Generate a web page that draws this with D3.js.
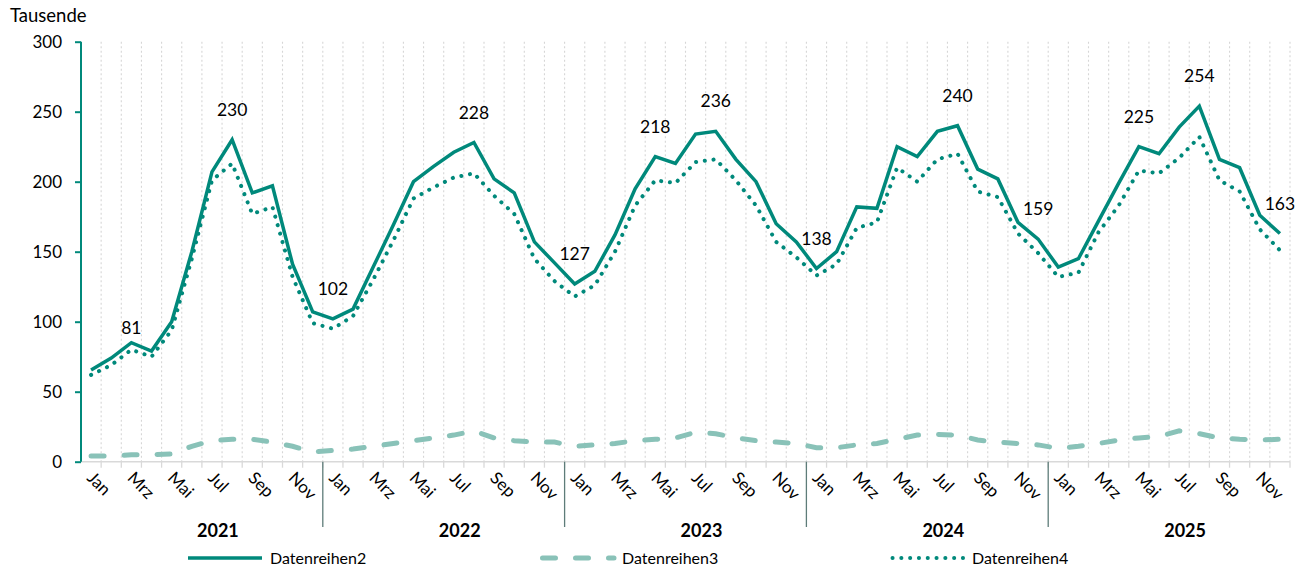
<!DOCTYPE html>
<html>
<head>
<meta charset="utf-8">
<script src="https://cdn.jsdelivr.net/npm/d3@7"></script>
<style>
  html, body { margin: 0; padding: 0; background: #fff; }
  svg { display: block; font-family: Lato, "Open Sans", sans-serif; }
</style>
</head>
<body>
<svg id="chart" width="1306" height="570"></svg>
<script>
// ---------- data ----------
const years = ["2021", "2022", "2023", "2024", "2025"];
const months = ["Jan", "Feb", "Mrz", "Apr", "Mai", "Jun", "Jul", "Aug", "Sep", "Okt", "Nov", "Dez"];
const shownMonths = ["Jan", "Mrz", "Mai", "Jul", "Sep", "Nov"];
const yTicks = [0, 50, 100, 150, 200, 250, 300];

const datenreihen2 = [
  65.5, 74, 85, 79, 100, 150, 207, 230, 192, 197, 141, 107,
  102, 109, 139, 169, 200, 211, 221, 228, 202, 192, 157, 142,
  127, 136, 162, 195, 218, 213, 234, 236, 216, 200, 170, 157,
  138, 150, 182, 181, 225, 218, 236, 240, 209, 202, 171, 159,
  139, 145, 172, 199, 225, 220, 239, 254, 216, 210, 176, 163
];
const datenreihen3 = [
  4, 4, 5, 5, 5.5, 11, 15, 16, 16, 14, 11, 7,
  8, 9, 11, 13, 15, 17, 19, 22, 17, 15, 14, 14,
  11, 12, 13, 15, 16, 17, 21, 20, 17, 15, 14, 13,
  10, 10, 12, 13, 16, 19, 19.5, 19, 15.5, 14, 13, 12,
  9.5, 11, 13, 15.5, 17, 18, 22, 20, 17, 16, 15.5, 16
];
const datenreihen4 = [
  62, 69, 80, 75, 94, 145, 201, 213, 177, 182, 132, 99,
  95, 104, 130, 158, 188, 196, 203, 206, 190, 177, 145, 129,
  118, 126, 150, 183, 201, 199, 214, 216, 201, 183, 157, 146,
  133, 141, 167, 171, 210, 200, 216, 220, 193, 189, 163, 149,
  132, 135, 164, 183, 208, 206, 217, 232, 201, 193, 166, 151
];
// data labels: month index (0..59) and displayed text
const labelIndex = [2, 7, 12, 19, 24, 28, 31, 36, 43, 47, 52, 55, 59];
const labelText  = ["81", "230", "102", "228", "127", "218", "236", "138", "240", "159", "225", "254", "163"];
const seriesNames = ["Datenreihen2", "Datenreihen3", "Datenreihen4"];

// ---------- layout / style ----------
const W = 1306, H = 570;
const plot = { left: 81, right: 1290, top: 41.7, bottom: 461.7 };
const teal = "#00897b";
const lightTeal = "#89c2b8";
const labelOffset = { def: 24, 2: 9 };

const svg = d3.select("#chart");

const categories = [];
years.forEach(y => months.forEach(m => categories.push(y + "-" + m)));

const x = d3.scaleBand().domain(categories).range([plot.left, plot.right]).padding(0);
const y = d3.scaleLinear().domain([0, 300]).range([plot.bottom, plot.top]);
const bw = x.bandwidth();
const cx = i => x(categories[i]) + bw / 2;

// vertical dotted gridlines at category boundaries
const boundaries = d3.range(1, categories.length + 1).map(i => plot.left + i * bw);
svg.append("g").selectAll("line").data(boundaries).join("line")
  .attr("x1", d => d).attr("x2", d => d)
  .attr("y1", plot.top).attr("y2", plot.bottom)
  .attr("stroke", "#d6d6d6").attr("stroke-width", 1.1)
  .attr("stroke-dasharray", "2,2.5");

// x axis line + ticks
const xAxisG = svg.append("g");
xAxisG.append("line")
  .attr("x1", plot.left).attr("x2", plot.right)
  .attr("y1", plot.bottom).attr("y2", plot.bottom)
  .attr("stroke", "#d9d9d9").attr("stroke-width", 1.5);
xAxisG.selectAll("line.tick").data(boundaries).join("line").attr("class", "tick")
  .attr("x1", d => d).attr("x2", d => d)
  .attr("y1", plot.bottom).attr("y2", plot.bottom + 6)
  .attr("stroke", "#d9d9d9").attr("stroke-width", 1.3);

// month labels (rotated)
const monthIdx = d3.range(categories.length).filter(i => shownMonths.includes(months[i % 12]));
svg.append("g").selectAll("text").data(monthIdx).join("text")
  .attr("transform", i => `translate(${cx(i) - 5},${479}) rotate(45)`)
  .attr("text-anchor", "start")
  .attr("font-size", 17)
  .attr("fill", "#000")
  .text(i => months[i % 12]);

// year separators and year labels
const yearBounds = d3.range(1, years.length).map(k => plot.left + k * 12 * bw);
svg.append("g").selectAll("line").data(yearBounds).join("line")
  .attr("x1", d => d).attr("x2", d => d)
  .attr("y1", plot.bottom).attr("y2", 527)
  .attr("stroke", "#5e7c79").attr("stroke-width", 1.3);
svg.append("g").selectAll("text").data(years).join("text")
  .attr("x", (d, k) => plot.left + (k * 12 + 6) * bw + 16)
  .attr("y", 537)
  .attr("text-anchor", "middle")
  .attr("font-size", 18).attr("font-weight", "bold")
  .attr("fill", "#000")
  .text(d => d);

// y axis
const yAxis = d3.axisLeft(y).tickValues(yTicks).tickSize(6).tickPadding(13);
const yg = svg.append("g").attr("transform", `translate(${plot.left},0)`).call(yAxis);
yg.select(".domain").attr("stroke", teal).attr("stroke-width", 2)
  .attr("d", `M0,${plot.top}V${plot.bottom}`);
yg.selectAll(".tick line").attr("stroke", teal).attr("stroke-width", 2);
yg.selectAll(".tick text").attr("font-size", 17).attr("fill", "#000")
  .attr("font-family", "Lato, 'Open Sans', sans-serif");

// unit label
svg.append("text").attr("x", 10).attr("y", 22)
  .attr("font-size", 18.5).attr("fill", "#000").text("Tausende");

// lines
const line = d3.line().x((d, i) => cx(i)).y(d => y(d));
const styles = [
  { data: datenreihen2, stroke: teal, width: 3.5, dash: null, cap: "butt" },
  { data: datenreihen3, stroke: lightTeal, width: 5, dash: "13,20", cap: "round" },
  { data: datenreihen4, stroke: teal, width: 4, dash: "0.1,8.7", cap: "round" }
];
const drawOrder = [1, 2, 0];
drawOrder.forEach(k => {
  const s = styles[k];
  svg.append("path").datum(s.data)
    .attr("d", line)
    .attr("fill", "none")
    .attr("stroke", s.stroke)
    .attr("stroke-width", s.width)
    .attr("stroke-linejoin", "miter")
    .attr("stroke-linecap", s.cap)
    .attr("stroke-dasharray", s.dash);
});

// data labels
svg.append("g").selectAll("text").data(labelIndex).join("text")
  .attr("x", i => cx(i))
  .attr("y", i => y(datenreihen2[i]) - (labelOffset[i] !== undefined ? labelOffset[i] : labelOffset.def))
  .attr("text-anchor", "middle")
  .attr("font-size", 17.5)
  .attr("fill", "#000")
  .text((i, k) => labelText[k]);

// legend
const legend = svg.append("g");
const legendX = [188, 540, 890];
const legendY = 558;
styles.forEach((s, k) => {
  legend.append("line")
    .attr("x1", legendX[k] + (s.cap === "round" ? 2.5 : 0)).attr("x2", legendX[k] + 74)
    .attr("y1", legendY).attr("y2", legendY)
    .attr("stroke", s.stroke).attr("stroke-width", s.width)
    .attr("stroke-linecap", s.cap)
    .attr("stroke-dasharray", s.dash);
  legend.append("text")
    .attr("x", legendX[k] + 82).attr("y", legendY + 6)
    .attr("font-size", 16).attr("fill", "#000")
    .text(seriesNames[k]);
});
</script>
</body>
</html>
